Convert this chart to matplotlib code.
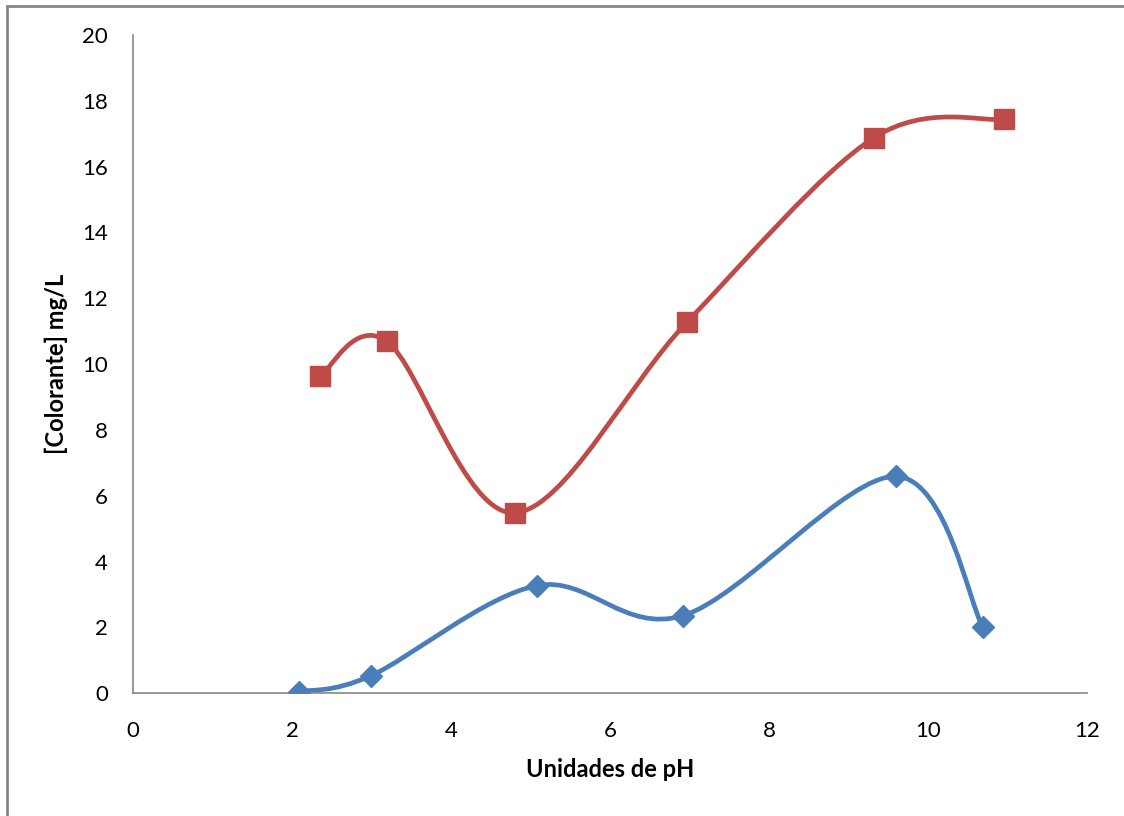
import numpy as np
import matplotlib.pyplot as plt
from matplotlib.path import Path
from matplotlib.patches import PathPatch, Rectangle

plt.rcParams['font.family'] = ['Lato', 'DejaVu Sans']

# series
ph_blue = [2.09, 2.99, 5.08, 6.92, 9.60, 10.69]
conc_blue = [0.05, 0.53, 3.27, 2.36, 6.59, 2.01]
ph_red = [2.35, 3.19, 4.80, 6.97, 9.32, 10.95]
conc_red = [9.63, 10.70, 5.48, 11.28, 16.88, 17.44]

blue = '#4A7EBB'
red = '#BE4B48'


def smooth_path(xs, ys):
    # Excel-like smoothed line: cubic bezier through the points
    pts = np.column_stack([xs, ys])
    n = len(pts)
    verts = [pts[0]]
    codes = [Path.MOVETO]
    for i in range(n - 1):
        p0 = pts[max(i - 1, 0)]
        p1 = pts[i]
        p2 = pts[i + 1]
        p3 = pts[min(i + 2, n - 1)]
        c1 = p1 + (p2 - p0) / 6.0
        c2 = p2 - (p3 - p1) / 6.0
        verts += [c1, c2, p2]
        codes += [Path.CURVE4] * 3
    return Path(verts, codes)


fig = plt.figure(figsize=(11.24, 8.16), dpi=100)
ax = fig.add_axes([0.1183, 0.1504, 0.8488, 0.8067])

for xs, ys, c, m, ms in [(ph_blue, conc_blue, blue, 'D', 11),
                          (ph_red, conc_red, red, 's', 14)]:
    ax.add_patch(PathPatch(smooth_path(xs, ys), facecolor='none',
                           edgecolor=c, lw=3.4, zorder=2))
    ax.plot(xs, ys, ls='none', marker=m, ms=ms, color=c, zorder=3)

ax.set_xlim(0, 12)
ax.set_ylim(0, 20)
ax.set_xticks(range(0, 13, 2))
ax.set_yticks(range(0, 21, 2))
ax.tick_params(length=0, labelsize=16)
ax.tick_params(axis='y', pad=18)
ax.tick_params(axis='x', pad=20)
for s in ['top', 'right']:
    ax.spines[s].set_visible(False)
for s in ['left', 'bottom']:
    ax.spines[s].set_color('#868686')
    ax.spines[s].set_linewidth(1.2)

ax.set_xlabel('Unidades de pH', fontsize=17, fontweight='bold', labelpad=12)
ax.set_ylabel('[Colorante] mg/L', fontsize=17, fontweight='bold', labelpad=10)

# outer chart border
fig.patches.append(Rectangle((7 / 1124, -0.1), 1.2, 1.1 - 6 / 816,
                             transform=fig.transFigure, fill=False,
                             edgecolor='#868686', lw=2))

fig.savefig('out.png', dpi=100)
